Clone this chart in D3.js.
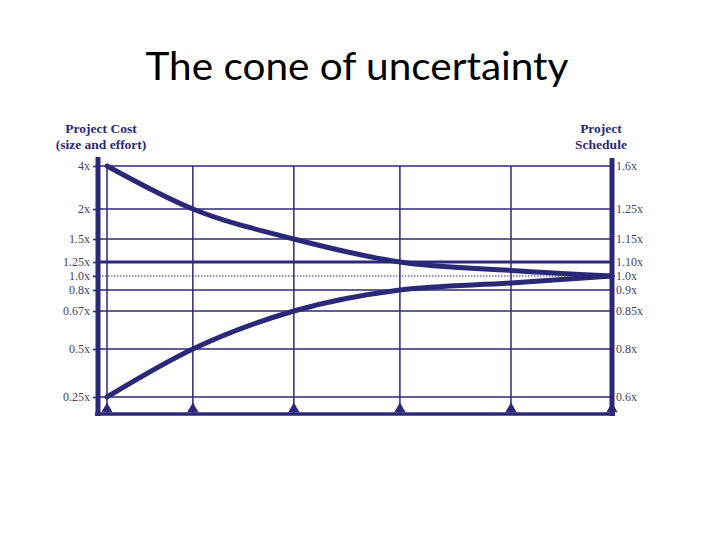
<!DOCTYPE html>
<html>
<head>
<meta charset="utf-8">
<script src="https://cdn.jsdelivr.net/npm/d3@7"></script>
<style>
  html, body { margin: 0; padding: 0; background: #fff; }
  svg { display: block; }
</style>
</head>
<body>
<script>
// ---- data ----
const milestoneTime = [0, 0.17, 0.37, 0.58, 0.8, 1.0];
const upperCost = [4, 2, 1.5, 1.25, 1.1, 1.0];
const lowerCost = [0.25, 0.5, 0.67, 0.8, 0.9, 1.0];
const costTicks = [4, 2, 1.5, 1.25, 1.0, 0.8, 0.67, 0.5, 0.25];
const costTickLabels = ["4x", "2x", "1.5x", "1.25x", "1.0x", "0.8x", "0.67x", "0.5x", "0.25x"];
const scheduleTickLabels = ["1.6x", "1.25x", "1.15x", "1.10x", "1.0x", "0.9x", "0.85x", "0.8x", "0.6x"];
const title = "The cone of uncertainty";

// ---- layout ----
const W = 720, H = 540;
const navy = "#2c2878";
const labelColor = "#45455f";
const leftAxisX = 98, rightAxisX = 612, bottomY = 414;
// non-uniform vertical placement of the reference scale (piecewise)
const tickY = [166, 209, 239, 262, 276, 290, 311, 349, 397];

const svg = d3.select("body").append("svg").attr("width", W).attr("height", H);

const x = d3.scaleLinear().domain([0, 1]).range([107, rightAxisX]);
const y = d3.scaleLinear().domain(costTicks).range(tickY);

// title
svg.append("text")
  .attr("x", 357).attr("y", 80)
  .attr("text-anchor", "middle")
  .attr("font-family", "Lato, 'Open Sans', sans-serif")
  .attr("font-size", 38)
  .attr("textLength", 423)
  .attr("lengthAdjust", "spacingAndGlyphs")
  .attr("fill", "#000")
  .text(title);

// axis headers
const hdr = svg.append("g")
  .attr("font-family", "'Liberation Serif', 'DejaVu Serif', serif")
  .attr("font-weight", "bold")
  .attr("font-size", 13.5)
  .attr("fill", navy)
  .attr("text-anchor", "middle");
hdr.append("text").attr("x", 101).attr("y", 133).text("Project Cost");
hdr.append("text").attr("x", 101).attr("y", 149).text("(size and effort)");
hdr.append("text").attr("x", 601).attr("y", 133).text("Project");
hdr.append("text").attr("x", 601).attr("y", 149).text("Schedule");

// horizontal grid lines
svg.append("g").selectAll("line").data(costTicks).join("line")
  .attr("x1", d => d === 1 ? 93 : leftAxisX)
  .attr("x2", rightAxisX)
  .attr("y1", d => y(d)).attr("y2", d => y(d))
  .attr("stroke", navy)
  .attr("stroke-width", d => d === 1 ? 1 : (d === 1.25 ? 3 : 1.6))
  .attr("stroke-dasharray", d => d === 1 ? "1.5,1.5" : null);

// vertical grid lines at milestones
svg.append("g").selectAll("line").data(milestoneTime.slice(0, -1)).join("line")
  .attr("x1", d => x(d)).attr("x2", d => x(d))
  .attr("y1", y(4)).attr("y2", bottomY)
  .attr("stroke", navy).attr("stroke-width", 1.5);

// left axis
const leftAxis = d3.axisLeft(y).tickValues(costTicks)
  .tickFormat((d, i) => costTickLabels[i]).tickSize(5).tickPadding(3);
const gL = svg.append("g").attr("transform", `translate(${leftAxisX},0)`).call(leftAxis);
gL.select(".domain").remove();
gL.selectAll(".tick line").attr("stroke", navy).attr("stroke-width", 1.6);
gL.selectAll(".tick text")
  .attr("font-family", "'Liberation Serif', 'DejaVu Serif', serif")
  .attr("font-size", 12).attr("fill", labelColor);

// right axis
const rightAxis = d3.axisRight(y).tickValues(costTicks)
  .tickFormat((d, i) => scheduleTickLabels[i]).tickSize(0).tickPadding(4);
const gR = svg.append("g").attr("transform", `translate(${rightAxisX},0)`).call(rightAxis);
gR.select(".domain").remove();
gR.selectAll(".tick text")
  .attr("font-family", "'Liberation Serif', 'DejaVu Serif', serif")
  .attr("font-size", 12).attr("fill", labelColor);

// thick frame axes
svg.append("line").attr("x1", leftAxisX).attr("x2", leftAxisX).attr("y1", 157).attr("y2", bottomY + 2)
  .attr("stroke", navy).attr("stroke-width", 5);
svg.append("line").attr("x1", rightAxisX).attr("x2", rightAxisX).attr("y1", 158).attr("y2", bottomY + 2)
  .attr("stroke", navy).attr("stroke-width", 5);
svg.append("line").attr("x1", 95).attr("x2", 615).attr("y1", bottomY).attr("y2", bottomY)
  .attr("stroke", navy).attr("stroke-width", 3.5);

// milestone triangles
svg.append("g").selectAll("path").data(milestoneTime).join("path")
  .attr("d", d3.symbol(d3.symbolTriangle, 55))
  .attr("transform", d => `translate(${x(d)},${bottomY - 5})`)
  .attr("fill", navy);

// cone curves
const line = d3.line().x((d, i) => x(milestoneTime[i])).y(d => y(d)).curve(d3.curveMonotoneX);
[upperCost, lowerCost].forEach(series => {
  svg.append("path").datum(series)
    .attr("d", line)
    .attr("fill", "none")
    .attr("stroke", navy)
    .attr("stroke-width", 5)
    .attr("stroke-linecap", "round");
});
</script>
</body>
</html>
